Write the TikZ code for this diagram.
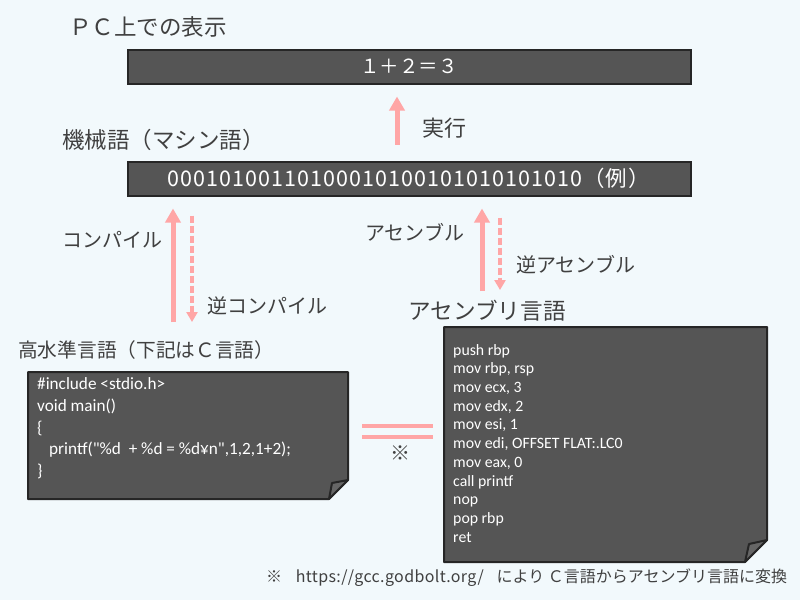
\documentclass[tikz,border=0pt]{standalone}
\usepackage{fontspec}
\setmainfont{Noto Sans CJK JP}
\newfontfamily\codefont{Carlito}
\usetikzlibrary{arrows.meta}
\definecolor{pagebg}{HTML}{F2F9FC}
\definecolor{boxfill}{HTML}{555555}
\definecolor{boxline}{HTML}{262626}
\definecolor{foldfill}{HTML}{666666}
\definecolor{inktext}{HTML}{404040}
\definecolor{arrowpink}{HTML}{FFA6A6}
\newcommand{\fsize}[1]{\fontsize{#1}{#1}\selectfont}
\tikzset{
  barbox/.style={draw=boxline, line width=2pt, fill=boxfill, minimum width=563pt, minimum height=34pt, inner sep=0pt, text=white},
  notebox/.style={draw=boxline, line width=2pt, fill=boxfill, line join=round},
  foldbox/.style={draw=boxline, line width=2pt, fill=foldfill, line join=round},
  label/.style={text=inktext, inner sep=0pt, anchor=west},
  codetext/.style={text=white, inner sep=0pt, anchor=north west, align=left},
  uparrow/.style={draw=arrowpink, line width=5pt, -{Triangle[length=14pt, width=15pt]}},
  downarrow/.style={draw=arrowpink, line width=4pt, dash pattern=on 7pt off 3pt, -{Triangle[length=10pt, width=11pt]}},
  equalline/.style={draw=arrowpink, line width=4pt}
}
\begin{document}
\begin{tikzpicture}[x=1pt,y=-1pt]
\useasboundingbox (0,0) rectangle (800,600);
\fill[pagebg] (0,0) rectangle (800,600);

\node[barbox] (display) at (409,66.5) {\fsize{19.5}１＋２＝３};
\node[barbox] (machine) at (409,178.5) {\fsize{21.5}\addfontfeature{LetterSpace=5}00010100110100010100101010101010（例）\hspace*{1pt}};

\node[label] (displaytitle) at (69,27) {\fsize{22.5}ＰＣ上での表示};
\node[label] (machinetitle) at (62,140) {\fsize{22.5}機械語（マシン語）};
\node[label] (sourcetitle) at (18,350) {\fsize{19.7}高水準言語（下記はＣ言語）};
\node[label] (asmtitle) at (408.5,311) {\fsize{22.6}アセンブリ言語};

\draw[notebox] (28,372) -- (348,372) -- (348,480) -- (329,499) -- (28,499) -- cycle;
\draw[foldbox] (329,499) -- (332,483) -- (348,480) -- cycle;
\draw[notebox] (444,327) -- (767,327) -- (767,540) -- (745,562) -- (444,562) -- cycle;
\draw[foldbox] (745,562) -- (749,544) -- (767,540) -- cycle;

\node[codetext, font=\codefont\fontsize{17.2}{21.7}\selectfont] (sourcecode) at (37,377.5) {\#include <stdio.h>\\
void main()\\
\{\\
\hspace*{12pt}printf("\%d~~+ \%d = \%d¥n",1,2,1+2);\\
\}};

\node[codetext, font=\codefont\fontsize{15.8}{18.7}\selectfont] (asmcode) at (453,344) {push rbp\\
mov rbp, rsp\\
mov ecx, 3\\
mov edx, 2\\
mov esi, 1\\
mov edi, OFFSET FLAT:.LC0\\
mov eax, 0\\
call printf\\
nop\\
pop rbp\\
ret};

\coordinate (execx) at (397,0);
\coordinate (compilefrom) at (173,322);
\coordinate (decompileto) at (192,322);
\coordinate (assemblefrom) at (482,291);
\coordinate (disasmto) at (500,290);

\draw[uparrow, shorten <=16pt, shorten >=12pt] (execx |- machine.north) -- (execx |- display.south);
\draw[uparrow, shorten >=12pt] (compilefrom) -- (compilefrom |- machine.south);
\draw[downarrow, shorten <=19pt] (decompileto |- machine.south) -- (decompileto);
\draw[uparrow, shorten >=12pt] (assemblefrom) -- (assemblefrom |- machine.south);
\draw[downarrow, shorten <=21pt] (disasmto |- machine.south) -- (disasmto);

\node[label] (execlabel) at (422,128) {\fsize{22}実行};
\node[label] (compilelabel) at (62,240) {\fsize{20}コンパイル};
\node[label] (decompilelabel) at (207,306) {\fsize{20}逆コンパイル};
\node[label] (assemblelabel) at (365,232) {\fsize{20}アセンブル};
\node[label] (disasmlabel) at (516,265) {\fsize{20}逆アセンブル};

\coordinate (equalfrom) at (362,426);
\coordinate (equalto) at (433,426);
\draw[equalline] (equalfrom) -- (equalto);
\draw[equalline] ([yshift=-11pt]equalfrom) -- ([yshift=-11pt]equalto);

\node[label] (equalnote) at (390,453) {\fsize{20}※};
\node[label] (footnote) at (266,578) {\fsize{16}※\hspace{.85em}{\addfontfeature{LetterSpace=2.3}https://gcc.godbolt.org/}\hspace{.8em}により Ｃ言語からアセンブリ言語に変換};
\end{tikzpicture}
\end{document}
